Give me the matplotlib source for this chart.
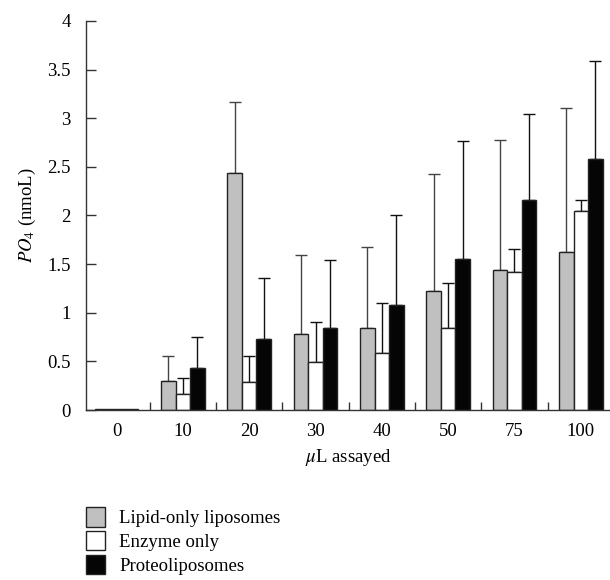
import numpy as np
import matplotlib
matplotlib.use('Agg')
import matplotlib.pyplot as plt

plt.rcParams['font.family'] = ['Liberation Serif', 'DejaVu Serif']
plt.rcParams['mathtext.fontset'] = 'stix'

categories = ['0', '10', '20', '30', '40', '50', '75', '100']
labels = ['Lipid-only liposomes', 'Enzyme only', 'Proteoliposomes']

lipid = [0.01, 0.30, 2.44, 0.78, 0.84, 1.22, 1.44, 1.62]
lipid_top = [0.01, 0.56, 3.17, 1.59, 1.68, 2.43, 2.78, 3.10]
enzyme = [0.01, 0.17, 0.29, 0.49, 0.59, 0.84, 1.42, 2.05]
enzyme_top = [0.01, 0.33, 0.56, 0.91, 1.10, 1.31, 1.66, 2.16]
proteo = [0.015, 0.43, 0.73, 0.84, 1.08, 1.55, 2.16, 2.58]
proteo_top = [0.015, 0.75, 1.36, 1.54, 2.00, 2.77, 3.04, 3.59]

fills = ['#c0c0c0', 'white', '#050505']
err_colors = ['#444444', '#111111', '#111111']
fs = 13.5

fig = plt.figure(figsize=(6.1, 5.8), dpi=100)
ax = fig.add_axes([0.141, 0.293, 0.859, 0.671])

x = np.arange(len(categories))
w = 0.22
series = [(lipid, lipid_top), (enzyme, enzyme_top), (proteo, proteo_top)]
for i, (vals, tops) in enumerate(series):
    vals = np.array(vals)
    tops = np.array(tops)
    pos = x + (i - 1) * w
    ax.bar(pos, vals, w, color=fills[i], edgecolor='#222222', linewidth=1.0,
           label=labels[i], zorder=2)
    mask = tops - vals > 0.001
    ax.errorbar(pos[mask], vals[mask], yerr=[np.zeros(mask.sum()), (tops - vals)[mask]],
                fmt='none', ecolor=err_colors[i], elinewidth=1.0, capsize=4,
                capthick=1.0, zorder=1)

ax.set_xlim(-0.46, 7.44)
ax.set_ylim(0, 4)
ax.set_xticks(x)
ax.set_xticklabels(categories)
ax.set_xticks(x[:-1] + 0.5, minor=True)
ax.tick_params(axis='x', which='major', length=0, labelsize=fs, pad=9)
ax.tick_params(axis='x', which='minor', direction='in', length=6, width=1, color='#333333')
ax.set_yticks([0, 0.5, 1, 1.5, 2, 2.5, 3, 3.5, 4])
ax.set_yticklabels(['0', '0.5', '1', '1.5', '2', '2.5', '3', '3.5', '4'])
ax.tick_params(axis='y', direction='in', length=7, width=1, labelsize=fs, pad=11, color='#333333')
for s in ['top', 'right']:
    ax.spines[s].set_visible(False)
for s in ['left', 'bottom']:
    ax.spines[s].set_color('#333333')
    ax.spines[s].set_linewidth(1.0)

ax.set_xlabel(r'$\mu$L assayed', fontsize=fs, labelpad=5)
ax.set_ylabel(r'$PO_4$ (nmoL)', fontsize=fs, labelpad=7)

fig.legend(loc='upper left', bbox_to_anchor=(0.129, 0.138), frameon=False,
           fontsize=fs, handlelength=1.0, handleheight=1.2, labelspacing=0.2,
           handletextpad=0.75, borderaxespad=0)

plt.savefig('out.png', dpi=100)
